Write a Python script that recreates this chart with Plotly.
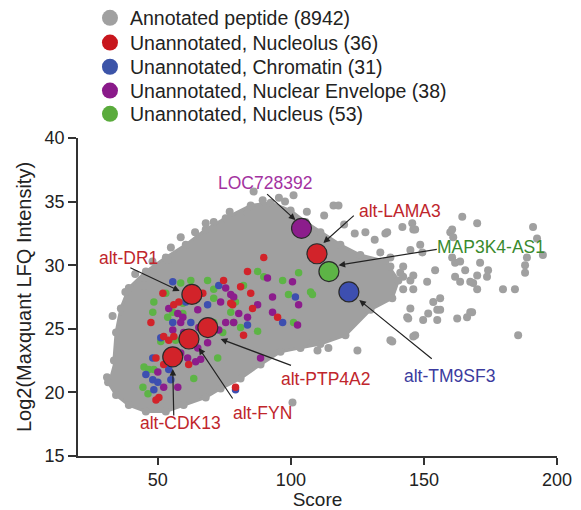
import plotly.graph_objects as go

FONT = "Liberation Sans, Arial, sans-serif"

# dense core of the annotated peptide cloud (outline)
core_x = [31.3, 34.3, 39.1, 45.5, 53.0, 59.7, 68.0, 73.6, 81.1, 88.6, 96.1, 103.6, 111.1, 120.5, 129.9,
          138.1, 140.4, 135.5, 126.1, 118.6, 111.1, 105.5, 99.9, 92.4, 84.9, 75.5, 68.0, 60.5, 53.0, 45.5,
          39.1, 36.1, 34.3, 33.5]
core_y = [20.8, 19.8, 19.0, 18.5, 18.5, 19.0, 19.6, 20.3, 21.1, 22.2, 23.2, 23.5, 23.8, 24.5, 26.5,
          27.4, 28.8, 30.3, 30.8, 31.6, 32.6, 33.4, 34.3, 34.9, 34.7, 33.7, 32.8, 31.6, 30.6, 29.5,
          28.2, 26.6, 24.7, 22.5]

# scattered annotated peptides outside the core
gray_x = [135.5, 141.9, 145.6, 146.0, 159.9, 161.0, 170.0, 191.0, 192.5, 194.7, 188.7, 188.0, 188.0, 179.7,
          184.2, 171.1, 174.1, 173.7, 170.0, 168.5, 170.0, 167.4, 165.5, 161.7, 163.6, 161.7, 163.6, 160.6,
          154.2, 151.2, 144.9, 146.0, 142.2, 142.2, 146.0, 153.5, 156.1, 155.0, 151.6, 149.7, 144.9, 143.7,
          162.5, 167.4, 166.2, 146.0, 138.1, 185.4, 148.6, 149.4, 144.9, 137.4, 133.6, 137.4, 142.2, 141.1,
          168.1, 156.1, 155.0, 144.1, 146.7, 137.4, 125.0, 114.1, 110.0, 108.5, 100.6, 101.0, 116.0, 117.9,
          164.4, 160.6, 146.7, 136.2, 86.0, 89.4, 83.7, 71.0, 68.0, 58.6, 54.9, 44.8, 53.7, 30.9, 95.5,
          97.8, 106.0, 112.5, 128.0, 131.5, 120.0, 124.0, 41.5, 37.8, 48.0, 64.0, 77.0, 33.0]
gray_y = [32.5, 33.0, 33.3, 32.8, 32.6, 32.2, 33.3, 33.0, 32.1, 30.8, 30.6, 30.0, 29.4, 28.1,
          28.1, 30.2, 29.6, 29.1, 29.2, 28.6, 28.1, 28.7, 29.6, 29.1, 28.7, 30.2, 30.3, 30.6,
          29.6, 28.7, 28.8, 29.2, 29.1, 28.1, 28.1, 27.1, 27.4, 26.5, 26.2, 25.7, 26.6, 25.9,
          25.8, 26.3, 25.9, 24.4, 24.0, 24.5, 31.6, 31.0, 31.2, 30.6, 31.0, 29.9, 29.9, 29.4,
          26.3, 26.5, 25.7, 25.8, 24.5, 24.1, 23.3, 23.5, 23.3, 24.0, 19.2, 35.5, 34.7, 34.7,
          33.8, 32.8, 32.8, 32.6, 35.8, 35.1, 34.1, 33.4, 33.3, 32.2, 31.4, 28.4, 30.4, 21.2, 35.3,
          35.0, 34.2, 33.9, 32.6, 32.0, 33.2, 32.5, 29.3, 27.9, 30.3, 32.6, 34.2, 26.0]

red_x = [51.9, 56.0, 57.9, 83.7, 89.8, 74.7, 81.1, 78.1, 66.9, 84.9, 77.4, 47.4, 56.0, 54.1, 61.6, 49.3,
         52.2, 50.4, 52.2, 82.2, 95.0, 85.6, 79.2, 49.3]
red_y = [27.8, 26.9, 27.1, 29.5, 30.6, 28.8, 28.3, 26.9, 27.8, 27.8, 27.0, 25.5, 24.4, 24.1, 22.2, 22.7,
         22.2, 19.6, 24.4, 24.5, 25.9, 26.6, 20.4, 19.4]

blue_x = [55.6, 60.5, 72.9, 68.7, 101.7, 55.6, 62.4, 51.1, 48.1, 54.1, 48.1, 48.5, 50.0, 79.2, 83.7,
          96.9, 54.9, 45.5]
blue_y = [28.7, 27.1, 28.4, 26.9, 27.5, 25.5, 25.5, 24.3, 22.7, 21.8, 21.0, 20.2, 20.8, 20.2, 25.3,
          25.5, 21.0, 21.4]

purple_x = [54.1, 91.2, 100.6, 75.5, 73.6, 77.4, 87.5, 65.0, 80.4, 93.1, 93.1, 102.9, 57.5, 78.5, 59.4,
            58.6, 75.5, 59.7, 65.4, 68.7, 65.0, 58.6, 64.2, 66.1, 50.0, 52.2, 57.5, 55.6, 72.9, 88.6,
            83.7, 78.5, 102.5, 61.2]
purple_y = [26.6, 29.0, 28.7, 28.2, 27.1, 27.7, 26.9, 26.5, 26.2, 26.3, 27.5, 26.9, 26.2, 27.5, 25.9,
            25.5, 25.5, 24.7, 25.1, 23.9, 23.5, 23.1, 22.4, 22.6, 21.6, 20.4, 20.4, 24.9, 24.9, 22.7,
            25.9, 25.5, 25.3, 22.7]

green_x = [58.6, 53.0, 62.4, 48.5, 59.4, 68.7, 87.5, 96.9, 71.0, 82.2, 79.2, 71.0, 99.1, 77.4, 55.6,
           89.8, 102.9, 107.4, 108.1, 59.4, 48.1, 53.7, 71.0, 78.5, 56.7, 74.4, 72.5, 44.8, 46.6, 48.5,
           44.4, 63.5, 46.3, 51.1, 87.5, 81.1, 101.0]
green_y = [28.6, 27.8, 28.8, 27.1, 26.2, 28.8, 29.5, 28.8, 28.1, 28.4, 27.1, 27.4, 27.7, 26.3, 26.3,
           29.1, 29.4, 27.9, 27.7, 27.0, 26.3, 25.9, 25.5, 25.5, 24.1, 24.7, 22.7, 22.0, 21.8, 21.8,
           20.4, 21.1, 19.9, 24.0, 24.8, 25.1, 25.5]

# highlighted unannotated proteins
hl_names = ["LOC728392", "alt-LAMA3", "MAP3K4-AS1", "alt-TM9SF3", "alt-DR1", "alt-PTP4A2", "alt-FYN", "alt-CDK13"]
hl_x = [104.0, 109.8, 114.3, 121.8, 62.8, 68.8, 61.7, 55.6]
hl_y = [32.9, 30.9, 29.5, 27.9, 27.7, 25.1, 24.2, 22.8]
hl_group = ["purple", "red", "green", "blue", "red", "red", "red", "red"]
# label centre, arrow tail and arrow head (data units)
lab_x = [90.1, 141.1, 175.2, 159.5, 39.1, 113.0, 89.4, 58.6]
lab_y = [36.5, 34.3, 31.4, 21.3, 30.6, 21.05, 18.4, 17.6]
tail_x = [90.5, 124.2, 155.4, 153.5, 39.1, 100.6, 78.5, 56.0]
tail_y = [35.7, 34.0, 31.27, 22.55, 29.86, 22.08, 19.4, 18.07]
head_x = [101.7, 112.2, 117.9, 125.7, 58.2, 73.6, 65.4, 55.6]
head_y = [33.55, 31.75, 30.0, 27.26, 27.97, 24.2, 23.5, 21.84]

legend_names = ["Annotated peptide (8942)", "Unannotated, Nucleolus (36)", "Unannotated, Chromatin (31)",
                "Unannotated, Nuclear Envelope (38)", "Unannotated, Nucleus (53)"]

GRAY = "#a0a0a0"
COLORS = {"red": "#d2232a", "blue": "#3d4fb0", "purple": "#8c1d8c", "green": "#5db446"}
LEG_COLORS = [GRAY, "#c8161d", "#3c54a8", "#8a1a8a", "#5aab3c"]
LABEL_COLORS = {"purple": "#a3329f", "red": "#c0262c", "green": "#3a8a2e", "blue": "#3b3b9e"}

fig = go.Figure()

fig.add_trace(go.Scatter(x=core_x, y=core_y, mode="lines+markers", fill="toself", fillcolor=GRAY,
                         line=dict(color=GRAY, width=3), marker=dict(color=GRAY, size=8),
                         showlegend=False, hoverinfo="skip"))
fig.add_trace(go.Scatter(x=gray_x, y=gray_y, mode="markers", marker=dict(color=GRAY, size=8),
                         showlegend=False))

for cx, cy, key in [(green_x, green_y, "green"), (purple_x, purple_y, "purple"),
                    (blue_x, blue_y, "blue"), (red_x, red_y, "red")]:
    fig.add_trace(go.Scatter(x=cx, y=cy, mode="markers", marker=dict(color=COLORS[key], size=7.5),
                             showlegend=False))

fig.add_trace(go.Scatter(x=hl_x, y=hl_y, mode="markers", text=hl_names,
                         marker=dict(color=[COLORS[g] for g in hl_group], size=20,
                                     line=dict(color="#2a2a2a", width=1.2)),
                         showlegend=False))

# one legend per row, so the rows sit as tightly as in the original
leg_rows = [1.377, 1.299, 1.223, 1.148, 1.075]
for i, (name, col) in enumerate(zip(legend_names, LEG_COLORS)):
    lg = "legend" if i == 0 else f"legend{i + 1}"
    fig.add_trace(go.Scatter(x=[None], y=[None], mode="markers", name=name, legend=lg,
                             marker=dict(color=col, size=20)))
    fig.update_layout({lg: dict(x=0.025, y=leg_rows[i], xanchor="left", yanchor="middle",
                                font=dict(size=19.5), itemsizing="trace", bgcolor="rgba(0,0,0,0)")})

for i in range(len(hl_names)):
    fig.add_annotation(x=head_x[i], y=head_y[i], ax=tail_x[i], ay=tail_y[i], axref="x", ayref="y",
                       xref="x", yref="y", text="", showarrow=True, arrowhead=2, arrowsize=1.1,
                       arrowwidth=1.2, arrowcolor="#222222")
    fig.add_annotation(x=lab_x[i], y=lab_y[i], text=hl_names[i], showarrow=False,
                       font=dict(size=17.5, color=LABEL_COLORS[hl_group[i]], family=FONT))

# page body adds an 8px margin, so the figure is sized to fit the 581x510 window
fig.update_layout(
    width=573, height=502,
    margin=dict(l=70, r=24, t=130, b=54, autoexpand=False),
    paper_bgcolor="white", plot_bgcolor="white",
    font=dict(family=FONT, size=18, color="#222222"),
)
fig.update_xaxes(range=[20, 200], tickvals=[50, 100, 150, 200], showline=True, linecolor="#333333",
                 linewidth=1.5, ticks="outside", ticklen=7, tickwidth=1.5, tickcolor="#333333",
                 showgrid=False, zeroline=False, title=dict(text="Score", font=dict(size=19), standoff=4))
fig.update_yaxes(range=[15, 40], tickvals=[15, 20, 25, 30, 35, 40], showline=True, linecolor="#333333",
                 linewidth=1.5, ticks="outside", ticklen=8, tickwidth=1.5, tickcolor="#333333",
                 showgrid=False, zeroline=False,
                 title=dict(text="Log2(Maxquant LFQ Intensity)", font=dict(size=20), standoff=8))

fig.write_html("out.html")
